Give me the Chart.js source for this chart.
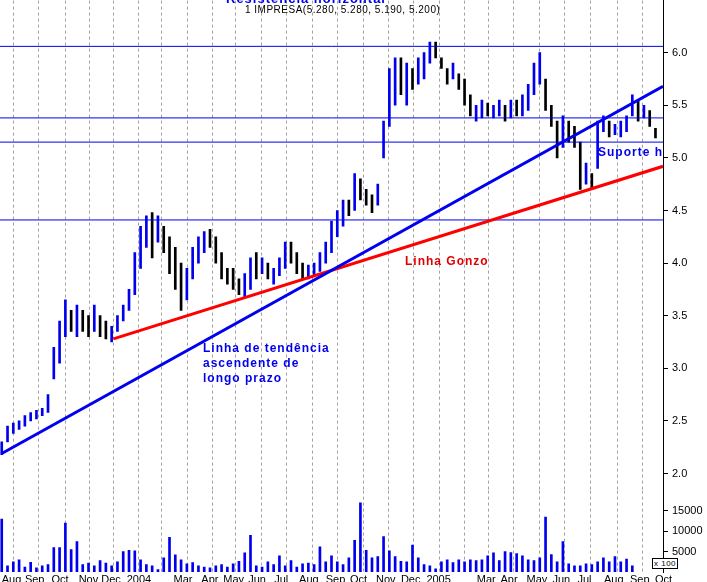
<!DOCTYPE html>
<html>
<head>
<meta charset="utf-8">
<script src="https://cdn.jsdelivr.net/npm/chart.js@4.4.1/dist/chart.umd.min.js"></script>
<style>
  body { margin: 0; background: #fff; width: 707px; height: 582px; overflow: hidden; position: relative; font-family: "Liberation Sans", Arial, sans-serif; }
  canvas { position: absolute; left: 0; }
  #priceChart { top: -10px; }
  #volChart { top: 480px; }
  .note { position: absolute; color: #0000ee; font-weight: bold; font-size: 12px; letter-spacing: 1px; line-height: 15px; white-space: nowrap; }
  .small { position: absolute; font-size: 10px; color: #000; letter-spacing: 0.5px; white-space: nowrap; }
</style>
</head>
<body>
<canvas id="priceChart" width="707" height="512"></canvas>
<canvas id="volChart" width="707" height="104"></canvas>
<div class="note" style="left:226px;top:-9px;font-size:13px;">Resistência horizontal</div>
<div class="small" style="left:245px;top:4px;">1 IMPRESA(5.280, 5.280, 5.190, 5.200)</div>
<div class="note" style="left:405px;top:254px;color:#e00000;">Linha Gonzo</div>
<div class="note" style="left:203px;top:341px;">Linha de tendência<br>ascendente de<br>longo prazo</div>
<div class="note" style="left:598px;top:145px;width:65px;overflow:hidden;">Suporte horizontal</div>
<div class="small" style="left:652px;top:558px;font-size:8px;border:1px solid #000;padding:0 1px;background:#fff;">x 100</div>
<script>
// weekly bars, Aug 2003 - Oct 2005 (week index 0 = first week of Aug 2003)
const lows = [2.18,2.30,2.38,2.42, 2.45,2.50,2.52,2.55,2.58, 2.90,3.05,3.30,3.35,3.30,
  3.35,3.30,3.35,3.30, 3.28,3.25,3.35,3.45, 3.55,3.70,3.95,4.15, 4.05,4.20,4.10,3.90,
  3.75,3.55,3.65,3.85, 4.00,4.10,4.15,4.00, 3.85,3.80,3.75,3.70,3.68, 3.75,3.85,3.90,3.85,
  3.80,3.88,3.95,4.00,3.90, 3.85,3.85,3.88,3.92, 4.00,4.10,4.25,4.35,4.45, 4.50,4.60,4.55,4.48,
  4.55,5.00,5.30,5.50, 5.60,5.50,5.65,5.70,5.75, 5.90,5.95,5.85,5.70, 5.75,5.65,5.50,5.40,
  5.35,5.38,5.40,5.38,5.40, 5.35,5.38,5.40,5.40, 5.45,5.60,5.70,5.45,5.30, 5.00,5.10,5.15,5.10,
  4.70,4.75,4.70,4.90,5.25, 5.20,5.22,5.20,5.25, 5.40,5.35,5.38,5.30, 5.19];
const highs = [2.30,2.45,2.48,2.50, 2.55,2.58,2.60,2.62,2.75, 3.20,3.45,3.65,3.55,3.60,
  3.55,3.50,3.60,3.50, 3.45,3.40,3.50,3.60, 3.75,4.10,4.35,4.45, 4.48,4.45,4.35,4.25,
  4.15,4.00,3.95,4.15, 4.25,4.30,4.32,4.25, 4.10,3.95,3.95,3.85,3.90, 4.05,4.10,4.05,4.00,
  3.95,4.05,4.20,4.20,4.10, 4.00,3.98,4.00,4.10, 4.20,4.40,4.50,4.60,4.60, 4.85,4.80,4.70,4.65,
  4.75,5.35,5.85,5.95, 5.95,5.90,5.85,5.95,6.00, 6.10,6.10,5.95,5.85, 5.90,5.80,5.75,5.60,
  5.50,5.55,5.52,5.50,5.55, 5.50,5.55,5.55,5.60, 5.70,5.90,6.00,5.75,5.50, 5.35,5.40,5.35,5.30,
  5.15,4.95,4.85,5.35,5.40, 5.35,5.32,5.35,5.40, 5.60,5.55,5.50,5.45, 5.28];
const closes = [2.28,2.42,2.45,2.48, 2.52,2.55,2.58,2.60,2.72, 3.15,3.40,3.55,3.42,3.50,
  3.45,3.38,3.52,3.35, 3.30,3.32,3.45,3.58, 3.72,4.05,4.30,4.35, 4.15,4.35,4.15,3.95,
  3.80,3.75,3.90,4.10, 4.20,4.25,4.20,4.05, 3.90,3.85,3.80,3.75,3.85, 4.00,3.95,4.00,3.90,
  3.92,4.00,4.15,4.05,3.95, 3.90,3.92,3.95,4.08, 4.15,4.35,4.45,4.55,4.50, 4.75,4.65,4.60,4.55,
  4.70,5.30,5.75,5.80, 5.70,5.85,5.75,5.90,5.95, 6.05,6.00,5.90,5.75, 5.85,5.70,5.55,5.45,
  5.45,5.50,5.45,5.45,5.50, 5.40,5.50,5.48,5.55, 5.65,5.85,5.90,5.50,5.35, 5.25,5.30,5.20,5.15,
  4.80,4.85,4.80,5.30,5.35, 5.25,5.28,5.30,5.35, 5.50,5.42,5.45,5.35, 5.20];
const volumes = [13000,1500,2500,3000, 1200,2400,1000,1500,1800, 6000,6000,12000,5500,7500,
  1800,2200,1500,2800,2200, 1500,2500,5000,5300, 5200,3000,1800,1500, 600,3500,8500,4200,
  3000,2000,2300,1500, 1200,1000,1500,1800,1200, 2000,2600,4700,9000, 1500,1200,2500,1800,
  4000,1500,2800,1200, 2000,2200,1800,6200, 2500,4000,2500,1800, 3500,7800,17000,5300,
  3500,3800,8700,5200, 3800,2600,2500,6600, 3500,1800,1500,800, 2500,3000,2300,3000,
  2500,3000,2800,3000, 4000,4700,2800,5000, 4800,4500,4000,3000, 2800,3500,13500,4300,
  2500,7500,2000,1500, 1500,2000,1800,2500, 3500,2500,3800,2500, 3200,1500];

const monthWeeks = [0,4,8.6,13.3,17.2,21.6,25.7,29.7,34.5,38.3,42.6,47.1,51.4,56,60.2,64.7,69,73.4,77.9,82.1,86.2,90.7,95.2,99.5,104.1,108.6,112.9];
const monthLabels = ['Aug','Sep','Oct','Nov','Dec','2004','','Mar','Apr','May','Jun','Jul','Aug','Sep','Oct','Nov','Dec','2005','','Mar','Apr','May','Jun','Jul','Aug','Sep','Oct'];

const priceTicks = [2.0,2.5,3.0,3.5,4.0,4.5,5.0,5.5,6.0];
const volTicks = [5000,10000,15000];

// drawn lines: [x0, y0, x1, y1] in (week, price)
const longTrend = [0, 2.19, 114.3, 5.68];
const gonzoLine = [19.3, 3.28, 114.3, 4.92];
const horizontalLevels = [6.06, 5.38, 5.15, 4.41];

const X_MIN = -0.3, X_MAX = 114.3;
const BLUE = '#0000ee';

function xScaleOpts(showLabels) {
  return {
    type: 'linear', min: X_MIN, max: X_MAX, offset: false,
    afterBuildTicks: s => { s.ticks = monthWeeks.map(v => ({ value: v })); },
    afterFit: s => { s.height = showLabels ? 12 : 0; },
    grid: { color: '#a0a0a0', drawTicks: false },
    border: { display: false, dash: [3, 3] },
    ticks: {
      display: showLabels, align: 'start', padding: 1, maxRotation: 0, autoSkip: false,
      color: '#000', font: { family: 'Liberation Sans', size: 11 },
      callback: (v, i) => monthLabels[i]
    }
  };
}

function yScaleOpts(min, max, ticks, fmt) {
  return {
    position: 'right', min, max,
    afterBuildTicks: s => { s.ticks = ticks.map(v => ({ value: v })); },
    afterFit: s => { s.width = 44; },
    grid: { drawOnChartArea: false, color: '#000', tickLength: 5 },
    border: { color: '#000' },
    ticks: { color: '#000', padding: 4, font: { family: 'Liberation Sans', size: 11 }, callback: fmt }
  };
}

const barColors = closes.map((c, i) => (i === 0 || c >= closes[i - 1]) ? BLUE : '#000');
const weekIdx = lows.map((_, i) => i);

const lineDs = (pts, color, width) => ({
  type: 'line', data: pts, borderColor: color, borderWidth: width,
  pointRadius: 0, fill: false, order: 0
});

new Chart(document.getElementById('priceChart'), {
  type: 'bar',
  data: {
    datasets: [
      {
        data: weekIdx.map(i => ({ x: i, y: [lows[i], highs[i]] })),
        backgroundColor: barColors, barThickness: 2, order: 1
      },
      lineDs([{ x: longTrend[0], y: longTrend[1] }, { x: longTrend[2], y: longTrend[3] }], BLUE, 3),
      lineDs([{ x: gonzoLine[0], y: gonzoLine[1] }, { x: gonzoLine[2], y: gonzoLine[3] }], '#ff0000', 3),
      ...horizontalLevels.map(p => lineDs([{ x: X_MIN, y: p }, { x: X_MAX, y: p }], BLUE, 1))
    ]
  },
  options: {
    animation: false, responsive: false,
    layout: { padding: 0 },
    plugins: { legend: { display: false }, tooltip: { enabled: false } },
    scales: {
      x: xScaleOpts(false),
      y: yScaleOpts(1.83, 6.495, priceTicks, v => v.toFixed(1))
    }
  }
});

new Chart(document.getElementById('volChart'), {
  type: 'bar',
  data: {
    datasets: [{
      data: weekIdx.map(i => ({ x: i, y: volumes[i] })),
      backgroundColor: BLUE, barThickness: 2
    }]
  },
  options: {
    animation: false, responsive: false,
    layout: { padding: 0 },
    plugins: { legend: { display: false }, tooltip: { enabled: false } },
    scales: {
      x: xScaleOpts(true),
      y: yScaleOpts(0, 20000, volTicks, v => String(v))
    }
  }
});
</script>
</body>
</html>
